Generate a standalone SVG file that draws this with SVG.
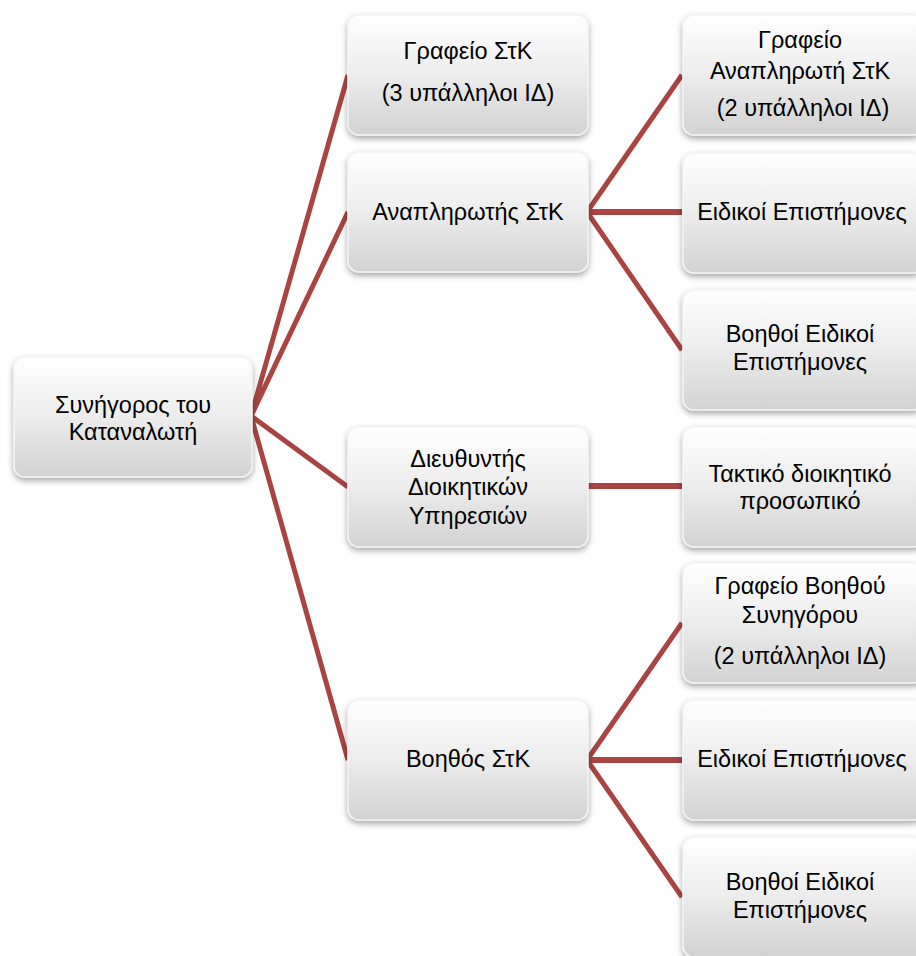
<svg xmlns="http://www.w3.org/2000/svg" width="916" height="956" viewBox="0 0 916 956">
<defs>
<linearGradient id="g" x1="0" y1="0" x2="0" y2="1">
<stop offset="0" stop-color="#ffffff"/>
<stop offset="0.5" stop-color="#ececec"/>
<stop offset="1" stop-color="#d2d2d2"/>
</linearGradient>
<filter id="sh" x="-10%" y="-10%" width="120%" height="130%">
<feDropShadow dx="0" dy="3" stdDeviation="3" flood-color="#000" flood-opacity="0.35"/>
</filter>
</defs>
<style>
.box{fill:url(#g);stroke:#f4f4f4;stroke-width:1.5;filter:url(#sh)}
.t{font-family:"Liberation Sans","Noto Sans",sans-serif;font-size:23.5px;fill:#000;text-anchor:middle}
.c{stroke:#a94442;stroke-width:5;fill:none;stroke-linecap:butt}
.h{stroke-width:6}
</style>
<rect width="916" height="956" fill="#fff"/>
<g id="connectors">
<path class="c" d="M251 416 L348 75 M251 416 L348 212 M251 416 L348 487 M251 416 L348 760"/>
<path class="c" d="M587 212 L682 75 M587 212 L682 350"/>
<path class="c h" d="M587 212 L682 212"/>
<path class="c h" d="M587 486 L682 486"/>
<path class="c" d="M587 760 L682 623 M587 760 L682 897"/>
<path class="c h" d="M587 760 L682 760"/>
</g>
<g id="root"><rect class="box" x="14" y="357" width="238" height="120" rx="11"/>
<text class="t" x="133" y="413">Συνήγορος του</text><text class="t" x="133" y="440">Καταναλωτή</text></g>
<g id="grafeio-stk"><rect class="box" x="348" y="15" width="240" height="120" rx="11"/>
<text class="t" x="468" y="59">Γραφείο ΣτΚ</text><text class="t" x="468" y="101">(3 υπάλληλοι ΙΔ)</text></g>
<g id="anaplirotis"><rect class="box" x="348" y="152" width="240" height="120" rx="11"/>
<text class="t" x="468" y="220">Αναπληρωτής ΣτΚ</text></g>
<g id="diefthyntis"><rect class="box" x="348" y="427" width="240" height="120" rx="11"/>
<text class="t" x="468" y="467">Διευθυντής</text><text class="t" x="468" y="495">Διοικητικών</text><text class="t" x="468" y="524">Υπηρεσιών</text></g>
<g id="voithos"><rect class="box" x="348" y="700" width="240" height="120" rx="11"/>
<text class="t" x="468" y="767">Βοηθός ΣτΚ</text></g>
<g id="grafeio-anapl"><rect class="box" x="683" y="15" width="240" height="120" rx="11"/>
<text class="t" x="800" y="48">Γραφείο</text><text class="t" x="800" y="79">Αναπληρωτή ΣτΚ</text><text class="t" x="803" y="116">(2 υπάλληλοι ΙΔ)</text></g>
<g id="eidikoi-1"><rect class="box" x="683" y="153" width="240" height="120" rx="11"/>
<text class="t" x="802" y="220">Ειδικοί Επιστήμονες</text></g>
<g id="voithoi-1"><rect class="box" x="683" y="290" width="240" height="120" rx="11"/>
<text class="t" x="800" y="342">Βοηθοί Ειδικοί</text><text class="t" x="800" y="370">Επιστήμονες</text></g>
<g id="taktiko"><rect class="box" x="683" y="427" width="240" height="120" rx="11"/>
<text class="t" x="800" y="482">Τακτικό διοικητικό</text><text class="t" x="800" y="509">προσωπικό</text></g>
<g id="grafeio-voith"><rect class="box" x="683" y="563" width="240" height="120" rx="11"/>
<text class="t" x="800" y="594">Γραφείο Βοηθού</text><text class="t" x="800" y="623">Συνηγόρου</text><text class="t" x="800" y="664">(2 υπάλληλοι ΙΔ)</text></g>
<g id="eidikoi-2"><rect class="box" x="683" y="700" width="240" height="120" rx="11"/>
<text class="t" x="802" y="767">Ειδικοί Επιστήμονες</text></g>
<g id="voithoi-2"><rect class="box" x="683" y="837" width="240" height="120" rx="11"/>
<text class="t" x="800" y="890">Βοηθοί Ειδικοί</text><text class="t" x="800" y="918">Επιστήμονες</text></g>
</svg>
